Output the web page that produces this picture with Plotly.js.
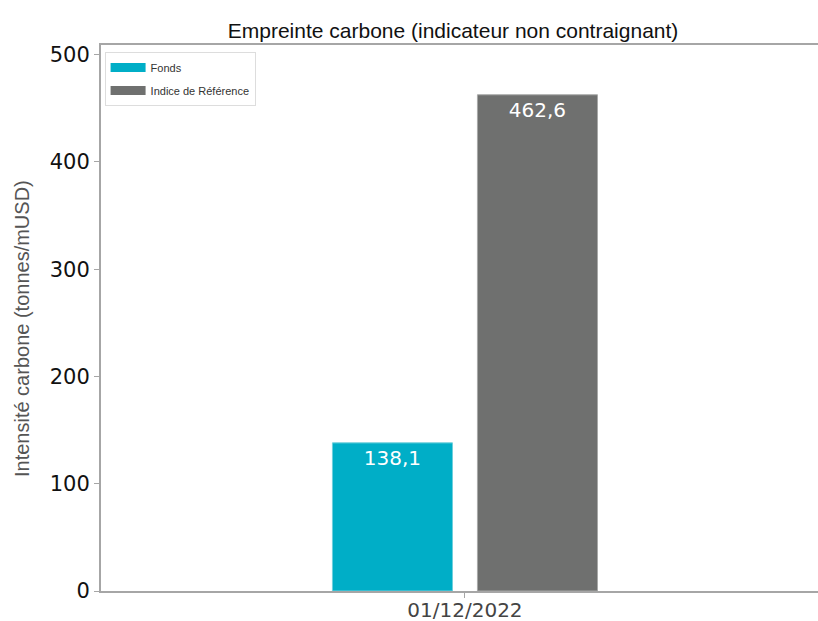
<!DOCTYPE html>
<html>
<head>
<meta charset="utf-8">
<script src="https://cdn.plot.ly/plotly-3.0.1.min.js"></script>
<style>
html,body{margin:0;padding:0;overflow:hidden;background:#fff;}
#chart{width:818px;height:621px;}
</style>
</head>
<body>
<div id="chart"></div>
<script>
const categories = ['01/12/2022'];
const seriesNames = ['Fonds', 'Indice de Référence'];
const fondsValues = [138.1];
const indexValues = [462.6];
const seriesColors = ['#00aec7', '#6f706f'];
const yTicks = [0, 100, 200, 300, 400, 500];

const barText = {family:'DejaVu Sans', size:20, color:'#ffffff'};
const traces = [
  {type:'bar', name:seriesNames[0], x:categories, y:fondsValues, marker:{color:seriesColors[0], line:{color:'#6fcfdc', width:1}},
   texttemplate:'%{y:.1f}', textposition:'inside', insidetextanchor:'end',
   textfont:barText, showlegend:false, hoverinfo:'skip'},
  {type:'bar', name:seriesNames[1], x:categories, y:indexValues, marker:{color:seriesColors[1], line:{color:'#a8a9a8', width:1}},
   texttemplate:'%{y:.1f}', textposition:'inside', insidetextanchor:'end',
   textfont:barText, showlegend:false, hoverinfo:'skip'},
  {type:'scatter', mode:'lines', name:seriesNames[0], legendgroup:'a', x:[categories[0]], y:[null],
   line:{color:seriesColors[0], width:9}, hoverinfo:'skip'},
  {type:'scatter', mode:'lines', name:seriesNames[1], legendgroup:'b', x:[categories[0]], y:[null],
   line:{color:seriesColors[1], width:9}, hoverinfo:'skip'}
];

const layout = {
  width:818, height:621,
  margin:{l:101, r:0, t:45, b:30},
  paper_bgcolor:'#ffffff', plot_bgcolor:'#ffffff',
  separators:', ',
  barmode:'group', bargap:0.6016, bargroupgap:0.172,
  title:{text:'Empreinte carbone (indicateur non contraignant)', font:{family:'Liberation Sans, Arial', size:21, color:'#111'},
         xref:'paper', x:0.491, xanchor:'center', yref:'container', y:0.95, yanchor:'middle'},
  xaxis:{type:'category', range:[-0.5, 0.485], showgrid:false, zeroline:false, showline:true, linecolor:'#a6a6a6', linewidth:2, mirror:true,
         ticks:'outside', ticklen:5, tickcolor:'#a6a6a6', tickwidth:1, ticklabelstandoff:-5,
         tickfont:{family:'DejaVu Sans', size:20, color:'#444'}},
  yaxis:{range:[0,509], showgrid:false, zeroline:false, showline:true, linecolor:'#a6a6a6', linewidth:2,
         ticks:'outside', ticklen:5, tickcolor:'#a6a6a6', tickwidth:1, tickvals:yTicks,
         tickfont:{family:'DejaVu Sans', size:21, color:'#111'}},
  showlegend:true,
  legend:{x:0.005, y:0.987, xanchor:'left', yanchor:'top', bgcolor:'#ffffff', bordercolor:'#dddddd', borderwidth:1,
          font:{family:'Liberation Sans, Arial', size:11, color:'#333'}, itemwidth:35,
          traceorder:'grouped', tracegroupgap:4},
  annotations:[{text:'Intensité carbone (tonnes/mUSD)', textangle:-90, xref:'paper', yref:'paper', x:-0.11, y:0.48,
                xanchor:'center', yanchor:'middle', showarrow:false, font:{family:'Liberation Sans, Arial', size:20, color:'#555'}}]
};

Plotly.newPlot('chart', traces, layout, {displayModeBar:false, staticPlot:true});
</script>
</body>
</html>
